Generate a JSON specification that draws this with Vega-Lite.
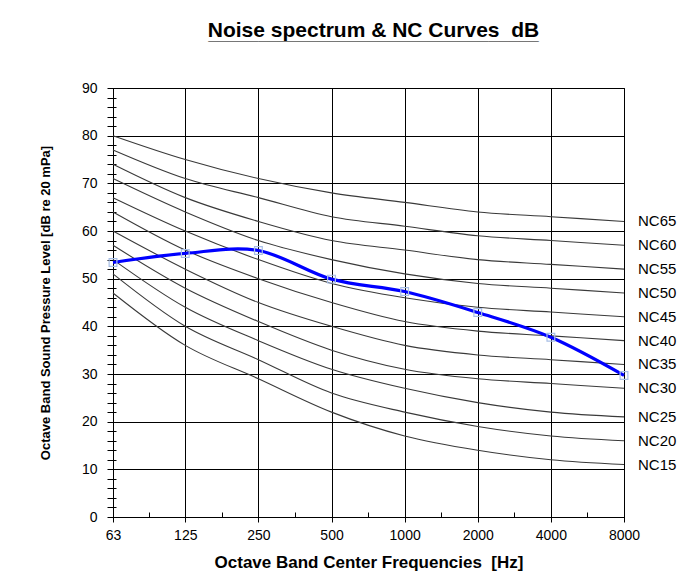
{
  "$schema": "https://vega.github.io/schema/vega-lite/v6.json",
  "autosize": {"type": "none"},
  "width": 511,
  "height": 429,
  "padding": {"left": 113, "top": 88, "right": 57, "bottom": 66},
  "background": "white",
  "title": {
    "text": "Noise spectrum & NC Curves \u00a0dB",
    "subtitle": "_________________________________",
    "font": "Liberation Sans",
    "fontSize": 21,
    "fontWeight": "bold",
    "color": "black",
    "subtitleFont": "Liberation Sans",
    "subtitleFontSize": 18,
    "subtitleFontWeight": "bold",
    "subtitleColor": "black",
    "subtitlePadding": -15,
    "anchor": "middle",
    "dx": 5,
    "offset": 37
  },
  "datasets": {
    "nc": [
      {"curve": "NC15", "freq": 63, "level": 47}, {"curve": "NC15", "freq": 125, "level": 36}, {"curve": "NC15", "freq": 250, "level": 29}, {"curve": "NC15", "freq": 500, "level": 22}, {"curve": "NC15", "freq": 1000, "level": 17}, {"curve": "NC15", "freq": 2000, "level": 14}, {"curve": "NC15", "freq": 4000, "level": 12}, {"curve": "NC15", "freq": 8000, "level": 11},
      {"curve": "NC20", "freq": 63, "level": 51}, {"curve": "NC20", "freq": 125, "level": 40}, {"curve": "NC20", "freq": 250, "level": 33}, {"curve": "NC20", "freq": 500, "level": 26}, {"curve": "NC20", "freq": 1000, "level": 22}, {"curve": "NC20", "freq": 2000, "level": 19}, {"curve": "NC20", "freq": 4000, "level": 17}, {"curve": "NC20", "freq": 8000, "level": 16},
      {"curve": "NC25", "freq": 63, "level": 54}, {"curve": "NC25", "freq": 125, "level": 44}, {"curve": "NC25", "freq": 250, "level": 37}, {"curve": "NC25", "freq": 500, "level": 31}, {"curve": "NC25", "freq": 1000, "level": 27}, {"curve": "NC25", "freq": 2000, "level": 24}, {"curve": "NC25", "freq": 4000, "level": 22}, {"curve": "NC25", "freq": 8000, "level": 21},
      {"curve": "NC30", "freq": 63, "level": 57}, {"curve": "NC30", "freq": 125, "level": 48}, {"curve": "NC30", "freq": 250, "level": 41}, {"curve": "NC30", "freq": 500, "level": 35}, {"curve": "NC30", "freq": 1000, "level": 31}, {"curve": "NC30", "freq": 2000, "level": 29}, {"curve": "NC30", "freq": 4000, "level": 28}, {"curve": "NC30", "freq": 8000, "level": 27},
      {"curve": "NC35", "freq": 63, "level": 60}, {"curve": "NC35", "freq": 125, "level": 52}, {"curve": "NC35", "freq": 250, "level": 45}, {"curve": "NC35", "freq": 500, "level": 40}, {"curve": "NC35", "freq": 1000, "level": 36}, {"curve": "NC35", "freq": 2000, "level": 34}, {"curve": "NC35", "freq": 4000, "level": 33}, {"curve": "NC35", "freq": 8000, "level": 32},
      {"curve": "NC40", "freq": 63, "level": 64}, {"curve": "NC40", "freq": 125, "level": 56}, {"curve": "NC40", "freq": 250, "level": 50}, {"curve": "NC40", "freq": 500, "level": 45}, {"curve": "NC40", "freq": 1000, "level": 41}, {"curve": "NC40", "freq": 2000, "level": 39}, {"curve": "NC40", "freq": 4000, "level": 38}, {"curve": "NC40", "freq": 8000, "level": 37},
      {"curve": "NC45", "freq": 63, "level": 67}, {"curve": "NC45", "freq": 125, "level": 60}, {"curve": "NC45", "freq": 250, "level": 54}, {"curve": "NC45", "freq": 500, "level": 49}, {"curve": "NC45", "freq": 1000, "level": 46}, {"curve": "NC45", "freq": 2000, "level": 44}, {"curve": "NC45", "freq": 4000, "level": 43}, {"curve": "NC45", "freq": 8000, "level": 42},
      {"curve": "NC50", "freq": 63, "level": 71}, {"curve": "NC50", "freq": 125, "level": 64}, {"curve": "NC50", "freq": 250, "level": 58}, {"curve": "NC50", "freq": 500, "level": 54}, {"curve": "NC50", "freq": 1000, "level": 51}, {"curve": "NC50", "freq": 2000, "level": 49}, {"curve": "NC50", "freq": 4000, "level": 48}, {"curve": "NC50", "freq": 8000, "level": 47},
      {"curve": "NC55", "freq": 63, "level": 74}, {"curve": "NC55", "freq": 125, "level": 67}, {"curve": "NC55", "freq": 250, "level": 62}, {"curve": "NC55", "freq": 500, "level": 58}, {"curve": "NC55", "freq": 1000, "level": 56}, {"curve": "NC55", "freq": 2000, "level": 54}, {"curve": "NC55", "freq": 4000, "level": 53}, {"curve": "NC55", "freq": 8000, "level": 52},
      {"curve": "NC60", "freq": 63, "level": 77}, {"curve": "NC60", "freq": 125, "level": 71}, {"curve": "NC60", "freq": 250, "level": 67}, {"curve": "NC60", "freq": 500, "level": 63}, {"curve": "NC60", "freq": 1000, "level": 61}, {"curve": "NC60", "freq": 2000, "level": 59}, {"curve": "NC60", "freq": 4000, "level": 58}, {"curve": "NC60", "freq": 8000, "level": 57},
      {"curve": "NC65", "freq": 63, "level": 80}, {"curve": "NC65", "freq": 125, "level": 75}, {"curve": "NC65", "freq": 250, "level": 71}, {"curve": "NC65", "freq": 500, "level": 68}, {"curve": "NC65", "freq": 1000, "level": 66}, {"curve": "NC65", "freq": 2000, "level": 64}, {"curve": "NC65", "freq": 4000, "level": 63}, {"curve": "NC65", "freq": 8000, "level": 62}
    ],
    "spectrum": [
      {"freq": 63, "level": 53.4},
      {"freq": 125, "level": 55.3},
      {"freq": 250, "level": 55.9},
      {"freq": 500, "level": 49.9},
      {"freq": 1000, "level": 47.3},
      {"freq": 2000, "level": 42.9},
      {"freq": 4000, "level": 37.7},
      {"freq": 8000, "level": 29.7}
    ]
  },
  "encoding": {
    "x": {
      "field": "freq",
      "type": "quantitative",
      "scale": {"type": "log", "base": 2, "domain": [63, 8000], "nice": false, "zero": false},
      "axis": {
        "title": "Octave Band Center Frequencies \u00a0[Hz]",
        "values": [63, 88.7, 125, 176.8, 250, 353.6, 500, 707.1, 1000, 1414.2, 2000, 2828.4, 4000, 5656.9, 8000],
        "labelExpr": "indexof([63,125,250,500,1000,2000,4000,8000], datum.value) >= 0 ? format(datum.value, 'd') : ''",
        "offset": -5,
        "domain": false,
        "tickColor": "black",
        "tickSize": {"condition": {"test": "indexof([63,125,250,500,1000,2000,4000,8000], datum.value) >= 0", "value": 10}, "value": 5},
        "grid": true,
        "gridColor": "black",
        "gridOpacity": {"condition": {"test": "indexof([63,125,250,500,1000,2000,4000,8000], datum.value) >= 0", "value": 1}, "value": 0},
        "labelPadding": 6,
        "labelFlush": false,
        "labelOverlap": false,
        "titlePadding": 12
      }
    },
    "y": {
      "field": "level",
      "type": "quantitative",
      "scale": {"domain": [0, 90], "nice": false},
      "axis": {
        "title": "Octave Band Sound Pressure Level [dB re 20 mPa]",
        "values": [0, 2, 4, 6, 8, 10, 12, 14, 16, 18, 20, 22, 24, 26, 28, 30, 32, 34, 36, 38, 40, 42, 44, 46, 48, 50, 52, 54, 56, 58, 60, 62, 64, 66, 68, 70, 72, 74, 76, 78, 80, 82, 84, 86, 88, 90],
        "labelExpr": "datum.value % 10 == 0 ? format(datum.value, 'd') : ''",
        "offset": -3,
        "domain": false,
        "tickColor": "black",
        "tickSize": 9,
        "grid": true,
        "gridColor": "black",
        "gridOpacity": {"condition": {"test": "datum.value % 10 == 0", "value": 1}, "value": 0},
        "labelPadding": 10,
        "labelFlush": false,
        "labelOverlap": false,
        "titlePadding": 29
      }
    }
  },
  "layer": [
    {
      "data": {"name": "nc"},
      "mark": {"type": "line", "interpolate": "cardinal", "color": "#3a3a3a", "strokeWidth": 1.1},
      "encoding": {"detail": {"field": "curve"}}
    },
    {
      "data": {"name": "nc"},
      "transform": [{"filter": "datum.freq == 8000"}],
      "mark": {"type": "text", "align": "left", "baseline": "middle", "dx": 14, "font": "Liberation Sans", "fontSize": 15, "color": "black", "clip": false},
      "encoding": {"text": {"field": "curve"}}
    },
    {
      "data": {"name": "spectrum"},
      "mark": {"type": "line", "interpolate": "cardinal", "color": "#0000ff", "strokeWidth": 3.2},
      "encoding": {}
    },
    {
      "data": {"name": "spectrum"},
      "mark": {"type": "point", "shape": "square", "filled": false, "size": 60, "stroke": "#a8bfe6", "strokeWidth": 1.2, "opacity": 1},
      "encoding": {}
    }
  ],
  "config": {
    "view": {"stroke": "black", "strokeWidth": 1},
    "axis": {
      "labelFont": "Liberation Sans",
      "labelFontSize": 14,
      "labelColor": "black",
      "titleFont": "Liberation Sans",
      "titleFontWeight": "bold",
      "titleColor": "black",
      "gridWidth": 1,
      "tickWidth": 1
    },
    "axisX": {"titleFontSize": 17},
    "axisY": {"titleFontSize": 13}
  }
}
